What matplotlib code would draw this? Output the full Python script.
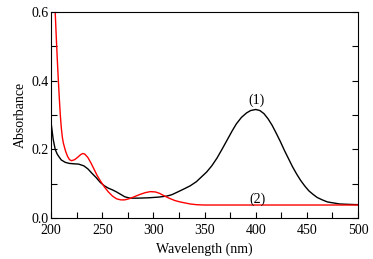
"""
UV-vis absorption spectra of samples (1) and (2).
"""
import matplotlib
matplotlib.use('Agg')
import matplotlib.pyplot as plt
from matplotlib.ticker import MultipleLocator

# spectrum (1), black
wl_1 = [200, 202, 204, 206, 208, 210, 214, 218, 222, 227, 232, 236, 240, 244,
        248, 252, 256, 260, 264, 268, 272, 277, 285, 295, 305, 313, 318, 323,
        330, 336, 342, 347, 352, 357, 362, 367, 372, 377, 381, 386, 391, 395,
        400, 404, 408, 412, 416, 420, 424, 428, 432, 436, 440, 444, 448, 452,
        456, 460, 465, 470, 476, 482, 490, 500]
abs_1 = [0.277, 0.230, 0.200, 0.186, 0.177, 0.169, 0.162, 0.159, 0.158, 0.157,
         0.152, 0.143, 0.130, 0.118, 0.104, 0.094, 0.087, 0.082, 0.076, 0.069,
         0.062, 0.058, 0.058, 0.059, 0.061, 0.064, 0.068, 0.075, 0.085, 0.094,
         0.106, 0.120, 0.134, 0.152, 0.174, 0.200, 0.227, 0.254, 0.274, 0.293,
         0.306, 0.313, 0.316, 0.313, 0.304, 0.289, 0.270, 0.247, 0.223, 0.197,
         0.173, 0.149, 0.128, 0.109, 0.093, 0.079, 0.069, 0.060, 0.053, 0.047,
         0.044, 0.041, 0.040, 0.039]

# spectrum (2), red
wl_2 = [204, 205, 206, 207, 208, 209, 210, 211, 212, 214, 216, 218, 220, 223,
        226, 229, 231, 233, 236, 239, 242, 245, 248, 252, 256, 260, 264, 268,
        272, 277, 282, 287, 292, 297, 302, 306, 311, 316, 321, 326, 331, 336,
        342, 350, 370, 400, 450, 500]
abs_2 = [0.600, 0.530, 0.465, 0.405, 0.350, 0.300, 0.262, 0.235, 0.218, 0.196,
         0.180, 0.170, 0.167, 0.170, 0.177, 0.185, 0.188, 0.186, 0.176, 0.160,
         0.142, 0.124, 0.109, 0.091, 0.076, 0.064, 0.056, 0.053, 0.053, 0.057,
         0.063, 0.069, 0.074, 0.077, 0.076, 0.072, 0.064, 0.057, 0.051, 0.047,
         0.044, 0.041, 0.039, 0.038, 0.038, 0.038, 0.038, 0.038]

labels = ['(1)', '(2)']
label_pos = [(401, 0.344), (402, 0.056)]

plt.rcParams['font.family'] = ['Liberation Serif', 'DejaVu Serif']

fig = plt.figure(figsize=(3.73, 2.59), dpi=100)
ax = fig.add_axes([0.137, 0.158, 0.823, 0.796])

ax.plot(wl_1, abs_1, color='black', linewidth=1.0)
ax.plot(wl_2, abs_2, color='red', linewidth=1.0)

for text, (x, y) in zip(labels, label_pos):
    ax.text(x, y, text, ha='center', va='center', fontsize=10)

ax.set_xlim(200, 500)
ax.set_ylim(0, 0.6)
ax.xaxis.set_major_locator(MultipleLocator(50))
ax.xaxis.set_minor_locator(MultipleLocator(25))
ax.yaxis.set_major_locator(MultipleLocator(0.2))
ax.yaxis.set_minor_locator(MultipleLocator(0.1))
ax.yaxis.set_major_formatter(plt.FuncFormatter(lambda v, p: f'{v:.1f}'))
ax.tick_params(which='both', direction='in', right=True, top=False,
               labelsize=10, width=0.8)
ax.tick_params(axis='x', pad=4)
ax.tick_params(axis='y', pad=2)
ax.tick_params(which='major', length=4)
ax.tick_params(which='minor', length=4)

ax.set_xlabel('Wavelength (nm)', fontsize=10, labelpad=4)
ax.set_ylabel('Absorbance', fontsize=10, labelpad=3)

plt.savefig('out.png', dpi=100)
plt.close()
